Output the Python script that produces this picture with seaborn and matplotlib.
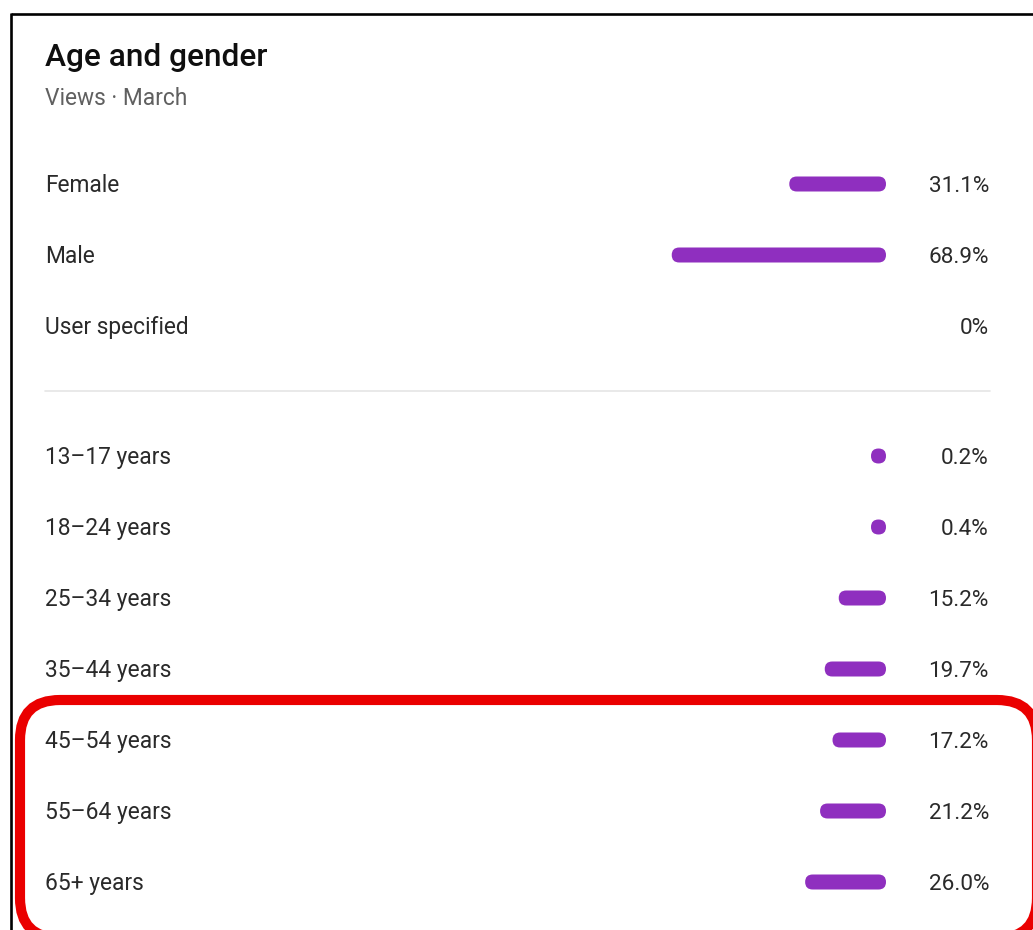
import matplotlib
matplotlib.use("Agg")
import matplotlib.pyplot as plt
import matplotlib.transforms as mtransforms
from matplotlib.patches import FancyBboxPatch
import pandas as pd
import seaborn as sns

# ---------------- data ----------------
title = "Age and gender"
subtitle = "Views · March"
gender_labels = ["Female", "Male", "User specified"]
gender_pct = [31.1, 68.9, 0.0]
age_labels = ["13–17 years", "18–24 years", "25–34 years", "35–44 years",
              "45–54 years", "55–64 years", "65+ years"]
age_pct = [0.2, 0.4, 15.2, 19.7, 17.2, 21.2, 26.0]

# ---------------- style ----------------
W, H, DPI = 1033, 930, 100
PURPLE = "#8f2fbf"
TEXT = "#2a2a2a"
SUB = "#606060"
RED = "#ea0000"

sns.set_theme(style="white")
plt.rcParams["font.family"] = ["Roboto", "DejaVu Sans"]

fig = plt.figure(figsize=(W / DPI, H / DPI), dpi=DPI)
fig.patch.set_facecolor("white")

over = fig.add_axes([0, 0, 1, 1])
over.set_xlim(0, W)
over.set_ylim(H, 0)
over.axis("off")

PIX = mtransforms.IdentityTransform()  # display pixels, origin bottom-left
renderer = fig.canvas.get_renderer()


def fit_size(sample, target_w, **kw):
    t = over.text(0, 0, sample, fontsize=10, **kw)
    w = t.get_window_extent(renderer).width
    t.remove()
    return 10 * target_w / w


title_fs = fit_size(title, 222, fontweight="medium")
sub_fs = fit_size(subtitle, 143)
lab_fs = fit_size("User specified", 145)
pct_fs = fit_size("68.9%", 60)

LEFT_X, RIGHT_X = 45, 989
ZERO_X = 886
PX_PER_PCT = 3.11
ROW = 71
BAR_H = 15

# header
over.text(LEFT_X, 66, title, fontsize=title_fs, fontweight="medium",
          color="#0f0f0f", va="baseline", ha="left")
over.text(LEFT_X, 105, subtitle, fontsize=sub_fs, color=SUB,
          va="baseline", ha="left")

# card frame (black) and divider
over.plot([11, 11], [13, H], color="black", lw=1.9, solid_capstyle="butt")
over.plot([11, W], [14, 14], color="black", lw=1.9, solid_capstyle="butt")
over.plot([LEFT_X, 990], [391, 391], color="#e5e5e5", lw=1.2)


def rounded(x0, y_top, w, h, r, **kw):
    """Rounded box given in top-left pixel coords, drawn in display pixels."""
    p = FancyBboxPatch((x0, H - y_top - h), w, h,
                       boxstyle=f"round,pad=0,rounding_size={r}",
                       transform=PIX, **kw)
    over.add_patch(p)
    return p


# red highlight frame (white fill, drawn beneath the bars)
rounded(20, 700, 1017, 238, 40, fc="white", ec=RED, lw=7.3, zorder=0.5)


def panel(labels, values, first_center):
    n = len(labels)
    top = first_center - ROW / 2
    height = n * ROW
    ax = fig.add_axes([LEFT_X / W, 1 - (top + height) / H,
                       (RIGHT_X - LEFT_X) / W, height / H])
    ax.set_facecolor("none")
    df = pd.DataFrame({"label": labels, "pct": values})
    sns.barplot(data=df, x="pct", y="label", orient="h", ax=ax,
                color=PURPLE, saturation=1, width=BAR_H / ROW)
    ax.set_xlim((ZERO_X - LEFT_X) / PX_PER_PCT, -(RIGHT_X - ZERO_X) / PX_PER_PCT)
    ax.set_ylim(n - 0.5, -0.5)
    ax.set(xlabel="", ylabel="", xticks=[], yticks=[])
    sns.despine(ax=ax, left=True, bottom=True)

    fig.canvas.draw()
    # rounded bars with minimum length equal to their height
    for p in ax.patches:
        bb = p.get_window_extent(renderer)
        p.set_visible(False)
        if bb.width < 0.01:
            continue
        h = bb.height
        right = bb.x1
        left = min(bb.x0, right - h)
        rounded(left, H - bb.y1, right - left, h, h / 2,
                fc=PURPLE, ec="none", zorder=1)

    tr = mtransforms.blended_transform_factory(ax.transAxes, ax.transData)
    for i, (lab, v) in enumerate(zip(labels, values)):
        off_lab = (0.711 * lab_fs * DPI / 72 / 2) / ROW
        off_pct = (0.711 * pct_fs * DPI / 72 / 2) / ROW
        ax.text(0, i + off_lab, lab, transform=tr, fontsize=lab_fs,
                color=TEXT, ha="left", va="baseline")
        txt = f"{v:g}%" if v == 0 else f"{v:.1f}%"
        ax.text(1, i + off_pct, txt, transform=tr, fontsize=pct_fs,
                color=TEXT, ha="right", va="baseline")
    return ax


panel(gender_labels, gender_pct, 184)
panel(age_labels, age_pct, 456)

fig.savefig("out.png", dpi=DPI, facecolor="white")
